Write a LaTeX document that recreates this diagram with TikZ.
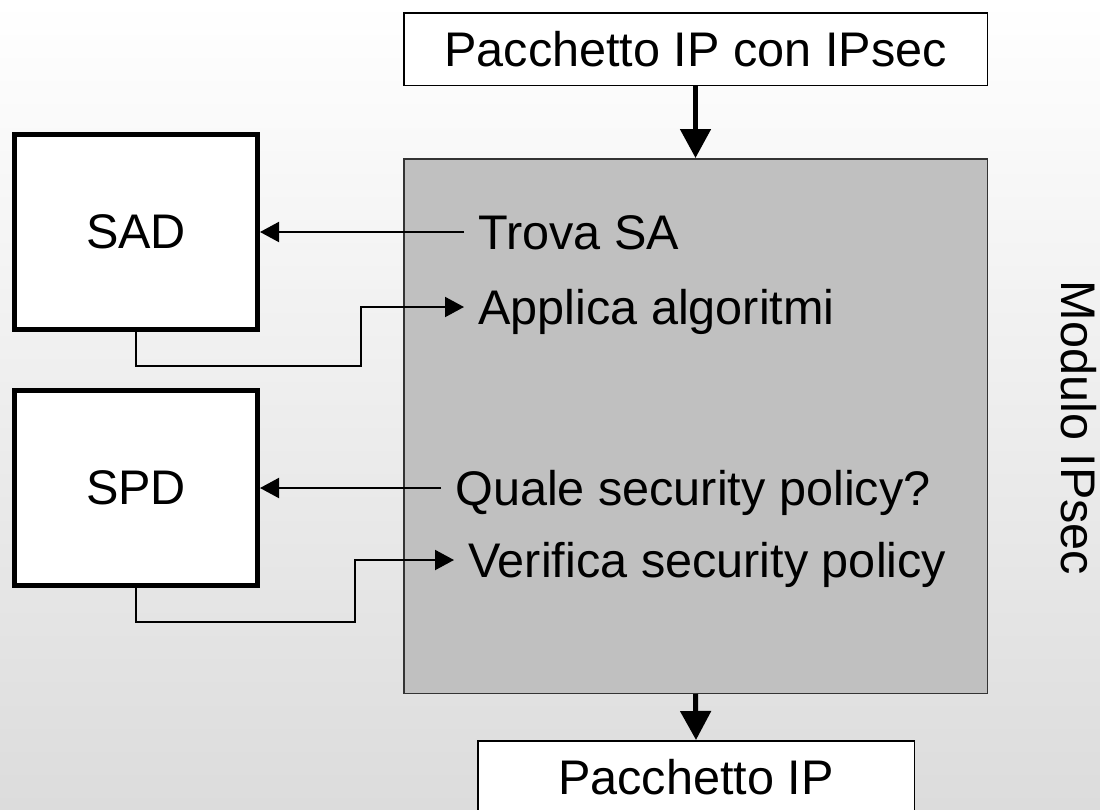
\documentclass[tikz,border=0pt]{standalone}
\usepackage{fontspec}
\setmainfont{Liberation Sans}
\usetikzlibrary{arrows.meta}
\definecolor{bgbottom}{HTML}{DCDCDC}
\definecolor{modfill}{HTML}{C0C0C0}
\definecolor{modline}{HTML}{333333}
\begin{document}
\begin{tikzpicture}[x=1pt,y=-1pt,
  every node/.style={font=\fontsize{48.6}{58}\selectfont},
  thinarrow/.style={line width=2pt,-{Triangle[length=19pt,width=20pt]}},
  thickarrow/.style={line width=5pt,-{Triangle[length=29pt,width=30pt]}},
  dbbox/.style={draw,line width=5pt,fill=white,minimum width=243pt,minimum height=195pt,inner sep=0pt},
  pktbox/.style={draw,line width=1.5pt,fill=white,inner sep=0pt,minimum height=72.5pt},
  actlabel/.style={anchor=west,inner xsep=14pt,inner ysep=0pt,text height=34pt,text depth=0pt}
]
\useasboundingbox (0,0) rectangle (1100,809);
\clip (0,0) rectangle (1100,809);
\shade[top color=white,bottom color=bgbottom] (0,0) rectangle (1100,809);

% module box
\node[draw=modline,line width=1.5pt,fill=modfill,minimum width=583.5pt,minimum height=534.5pt,inner sep=0pt] (mod) at (695.5,426) {};

% packet boxes
\node[pktbox,minimum width=583.5pt] (pin) at (695.5,49) {Pacchetto IP con IPsec};
\node[pktbox,minimum width=436.5pt] (pout) at (696,777) {Pacchetto IP};

% databases
\node[dbbox] (sad) at (136,232) {SAD};
\node[dbbox] (spd) at (136,488) {SPD};

% action labels
\node[actlabel] (trova) at (464,232) {Trova SA};
\node[actlabel] (applica) at (464,307) {Applica algoritmi};
\node[actlabel] (quale) at (441,488) {Quale security policy?};
\node[actlabel] (verifica) at (454,560) {Verifica security policy};

% side label
\node[rotate=-90,inner sep=0pt,text height=35pt,text depth=0pt] (modlabel) at (1079,428) {Modulo IPsec};

% connectors
\draw[thickarrow] (pin.south) -- (mod.north);
\draw[thickarrow] (mod.south) -- (pout.north);

\coordinate (bendA) at (361,366);
\coordinate (bendB) at (355,622);
\draw[thinarrow] (trova.west) -- (sad.east);
\draw[thinarrow] (sad.south) |- (bendA) |- (applica.west);
\draw[thinarrow] (quale.west) -- (spd.east);
\draw[thinarrow] (spd.south) |- (bendB) |- (verifica.west);
\end{tikzpicture}
\end{document}
